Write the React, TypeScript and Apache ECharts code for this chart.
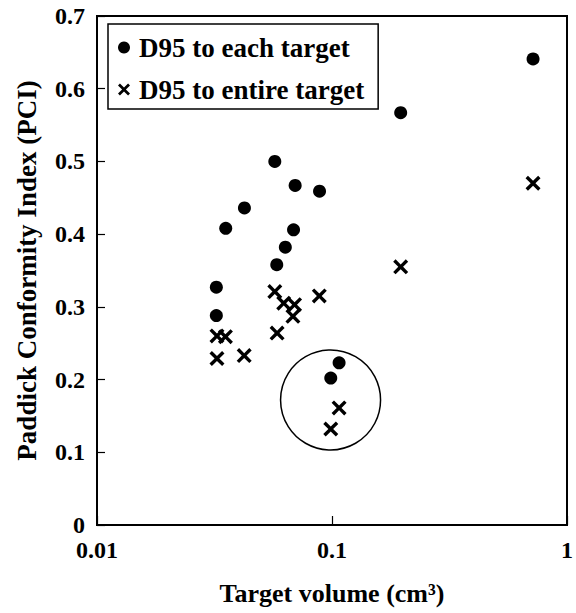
import React, { useEffect, useRef } from "react";
import * as echarts from "echarts";

const eachTargetX = [0.0571, 0.0697, 0.0885, 0.0424, 0.0353, 0.0686, 0.0633, 0.0582, 0.0322, 0.0322, 0.1072, 0.0988, 0.196, 0.717];
const eachTargetY = [0.5, 0.467, 0.459, 0.436, 0.408, 0.406, 0.382, 0.358, 0.327, 0.288, 0.223, 0.202, 0.567, 0.641];

const entireTargetX = [0.717, 0.196, 0.0324, 0.0352, 0.0324, 0.0423, 0.0571, 0.0623, 0.0693, 0.0682, 0.0883, 0.0584, 0.1072, 0.0988];
const entireTargetY = [0.47, 0.355, 0.26, 0.259, 0.229, 0.233, 0.321, 0.305, 0.303, 0.287, 0.315, 0.264, 0.161, 0.132];

const highlightCenter = [0.0986, 0.172];

const seriesNames = ["D95 to each target", "D95 to entire target"];
const xTitle = "Target volume (cm³)";
const yTitle = "Paddick Conformity Index (PCI)";

const FONT = "'Liberation Serif', 'Times New Roman', serif";
const CROSS =
  "path://M1.6,0L5,3.4L8.4,0L10,1.6L6.6,5L10,8.4L8.4,10L5,6.6L1.6,10L0,8.4L3.4,5L0,1.6Z";

export default function App() {
  const ref = useRef<HTMLDivElement>(null);
  useEffect(() => {
    if (!ref.current) return;
    const chart = echarts.init(ref.current, null, { renderer: "svg" });
    const option: any = {
      animation: false,
      backgroundColor: "#fff",
      grid: {
        left: 97,
        right: 4,
        top: 16,
        bottom: 88,
        show: true,
        borderColor: "#000",
        borderWidth: 2,
        backgroundColor: "transparent",
      },
      legend: {
        left: 108,
        top: 24,
        orient: "vertical",
        padding: [10, 14, 6, 10],
        itemGap: 15,
        itemWidth: 20,
        itemHeight: 12,
        borderColor: "#000",
        borderWidth: 1.5,
        backgroundColor: "#fff",
        textStyle: { fontFamily: FONT, fontWeight: "bold", fontSize: 27, color: "#000" },
        data: [
          { name: seriesNames[0], icon: "circle", itemStyle: { color: "#000", opacity: 1 } },
          { name: seriesNames[1], icon: CROSS, itemStyle: { color: "#000", opacity: 1 } },
        ],
      },
      xAxis: {
        type: "log",
        logBase: 10,
        min: 0.01,
        max: 1,
        name: xTitle,
        nameLocation: "middle",
        nameGap: 55,
        nameTextStyle: { fontFamily: FONT, fontWeight: "bold", fontSize: 26, color: "#000" },
        axisLine: { show: true, lineStyle: { color: "#000", width: 2 } },
        axisTick: { show: true, inside: true, length: 9, lineStyle: { color: "#000", width: 1.2 } },
        minorTick: { show: false },
        splitLine: { show: false },
        axisLabel: {
          margin: 13,
          fontFamily: FONT,
          fontWeight: "bold",
          fontSize: 24,
          color: "#000",
          formatter: (v: number) => String(Number(v.toPrecision(1))),
        },
      },
      yAxis: {
        type: "value",
        min: 0,
        max: 0.7,
        interval: 0.1,
        name: yTitle,
        nameLocation: "middle",
        nameGap: 57,
        nameTextStyle: { fontFamily: FONT, fontWeight: "bold", fontSize: 27, color: "#000" },
        axisLine: { show: true, lineStyle: { color: "#000", width: 2 } },
        axisTick: { show: true, inside: true, length: 8, lineStyle: { color: "#000", width: 1.2 } },
        splitLine: { show: false },
        axisLabel: {
          margin: 12,
          fontFamily: FONT,
          fontWeight: "bold",
          fontSize: 24,
          color: "#000",
          formatter: (v: number) => (Math.abs(v) < 1e-9 ? "0" : v.toFixed(1)),
        },
      },
      series: [
        {
          type: "custom",
          name: "highlight",
          silent: true,
          data: [highlightCenter],
          renderItem: (_params: any, api: any) => {
            const p = api.coord([api.value(0), api.value(1)]);
            return {
              type: "circle",
              shape: { cx: p[0], cy: p[1], r: 50 },
              style: { fill: "none", stroke: "#000", lineWidth: 1.5 },
            };
          },
          z: 1,
        },
        {
          type: "scatter",
          name: seriesNames[0],
          symbol: "circle",
          symbolSize: 13,
          itemStyle: { color: "#000", opacity: 1 },
          data: eachTargetX.map((x, i) => [x, eachTargetY[i]]),
          z: 3,
        },
        {
          type: "scatter",
          name: seriesNames[1],
          symbol: CROSS,
          symbolSize: 15,
          itemStyle: { color: "#000", opacity: 1 },
          data: entireTargetX.map((x, i) => [x, entireTargetY[i]]),
          z: 3,
        },
      ],
    };
    chart.setOption(option);
    return () => chart.dispose();
  }, []);
  return (
    <div
      ref={ref}
      style={{ position: "fixed", left: 0, top: 0, width: 576, height: 613 }}
    />
  );
}
